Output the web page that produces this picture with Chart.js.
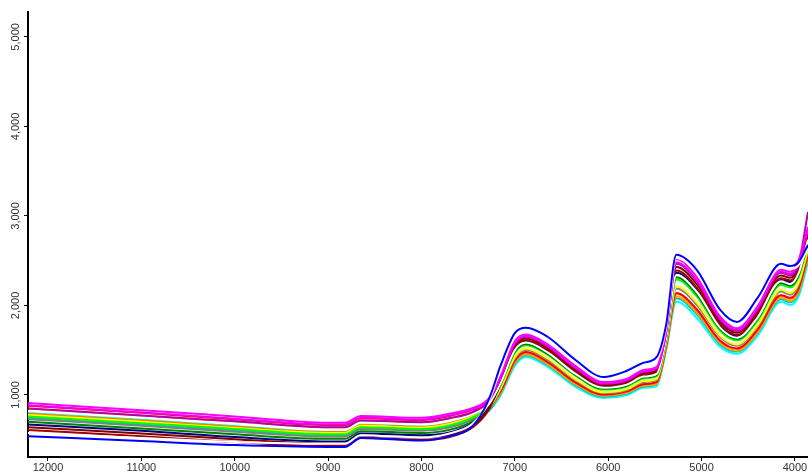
<!DOCTYPE html>
<html>
<head>
<meta charset="utf-8">
<script src="https://cdn.jsdelivr.net/npm/chart.js@4"></script>
<style>
  body { margin: 0; background: #fff; }
  #wrap { width: 808px; height: 472px; }
</style>
</head>
<body>
<div id="wrap"><canvas id="spectra"></canvas></div>
<script>
// wavenumbers (cm-1), left to right
const wavenumbers = [12214, 11000, 10000, 9000, 8820, 8650, 8000, 7700, 7450, 7280, 7150, 7000, 6880, 6650, 6350, 6050, 5800, 5620, 5480, 5380, 5270, 5050, 4800, 4620, 4400, 4150, 4050, 3960, 3860];
const xTicks = [12000, 11000, 10000, 9000, 8000, 7000, 6000, 5000, 4000];
const yTicks = [1000, 2000, 3000, 4000, 5000];

// one array per spectrum
const blue = [540, 485, 440, 420, 420, 520, 490, 540, 655, 945, 1335, 1690, 1750, 1650, 1390, 1200, 1270, 1360, 1425, 1780, 2565, 2395, 1950, 1815, 2085, 2465, 2440, 2485, 2675];
const white2 = [575, 520, 475, 455, 455, 550, 525, 570, 680, 920, 1300, 1655, 1715, 1615, 1355, 1170, 1235, 1325, 1390, 1745, 2530, 2360, 1915, 1780, 2050, 2430, 2405, 2450, 2640];
const magenta = [910, 830, 760, 690, 690, 765, 745, 790, 855, 960, 1215, 1600, 1675, 1565, 1325, 1145, 1180, 1280, 1315, 1715, 2515, 2315, 1875, 1745, 1990, 2400, 2375, 2510, 2880];
const magenta2 = [885, 805, 735, 670, 670, 745, 725, 770, 840, 945, 1200, 1580, 1660, 1550, 1305, 1130, 1165, 1265, 1300, 1700, 2480, 2280, 1850, 1725, 1965, 2375, 2350, 2480, 2850];
const purple = [850, 770, 705, 640, 640, 715, 695, 740, 810, 930, 1190, 1570, 1650, 1540, 1300, 1125, 1160, 1260, 1290, 1690, 2465, 2270, 1840, 1715, 1955, 2365, 2335, 2465, 3045];
const red = [880, 800, 730, 665, 665, 740, 720, 765, 835, 875, 1045, 1385, 1480, 1370, 1140, 1005, 1040, 1120, 1145, 1545, 2140, 1955, 1605, 1520, 1730, 2115, 2085, 2190, 2570];
const orange = [850, 770, 705, 640, 640, 715, 695, 740, 810, 855, 1025, 1360, 1455, 1345, 1120, 990, 1025, 1105, 1125, 1525, 2100, 1920, 1580, 1495, 1700, 2085, 2050, 2155, 2535];
const white1 = [820, 745, 675, 610, 610, 690, 670, 710, 790, 895, 1135, 1500, 1585, 1475, 1235, 1080, 1115, 1205, 1235, 1635, 2340, 2150, 1750, 1640, 1865, 2270, 2240, 2360, 2735];
const cyan = [805, 730, 660, 600, 600, 680, 660, 700, 780, 830, 1000, 1325, 1425, 1315, 1090, 965, 1000, 1080, 1100, 1500, 2040, 1860, 1535, 1460, 1660, 2040, 2005, 2105, 2485];
const yellow = [775, 700, 630, 575, 575, 655, 635, 675, 760, 855, 1080, 1425, 1520, 1410, 1175, 1030, 1065, 1155, 1180, 1580, 2215, 2030, 1660, 1565, 1780, 2175, 2140, 2255, 2630];
const lime = [760, 685, 620, 560, 560, 640, 620, 660, 750, 865, 1110, 1470, 1555, 1450, 1215, 1060, 1095, 1185, 1210, 1610, 2290, 2100, 1715, 1610, 1830, 2230, 2200, 2320, 2690];
const gray = [730, 655, 590, 535, 535, 620, 600, 635, 725, 835, 1070, 1410, 1505, 1395, 1165, 1020, 1055, 1145, 1170, 1570, 2190, 2005, 1645, 1550, 1765, 2155, 2120, 2230, 2610];
const green = [700, 625, 560, 510, 510, 595, 575, 610, 705, 850, 1125, 1485, 1570, 1460, 1225, 1070, 1105, 1195, 1225, 1625, 2315, 2125, 1735, 1625, 1850, 2250, 2220, 2340, 2715];
const navy = [670, 600, 530, 480, 480, 570, 550, 580, 685, 850, 1145, 1515, 1595, 1485, 1250, 1090, 1125, 1215, 1245, 1645, 2365, 2170, 1770, 1655, 1885, 2285, 2260, 2380, 2755];
const maroon = [640, 570, 505, 455, 455, 545, 525, 555, 660, 855, 1175, 1550, 1630, 1520, 1280, 1115, 1150, 1245, 1275, 1675, 2430, 2235, 1815, 1695, 1930, 2335, 2310, 2435, 2810];
const darkRed = [610, 540, 475, 430, 430, 520, 500, 530, 640, 835, 1160, 1530, 1610, 1500, 1260, 1100, 1135, 1225, 1260, 1660, 2390, 2195, 1785, 1670, 1900, 2305, 2280, 2400, 2775];
const teal = [745, 670, 605, 545, 545, 630, 610, 645, 735, 820, 1020, 1350, 1445, 1335, 1110, 980, 1015, 1095, 1120, 1520, 2080, 1900, 1565, 1485, 1690, 2070, 2035, 2140, 2520];
const darkOrange = [790, 715, 645, 585, 585, 665, 645, 685, 770, 845, 1040, 1375, 1475, 1365, 1135, 1000, 1035, 1120, 1140, 1540, 2130, 1945, 1600, 1515, 1720, 2110, 2075, 2180, 2560];

const spectra = [
  [blue, "#0000FF"],
  [white2, "#FFFFFF"],
  [magenta, "#FF00FF"],
  [magenta2, "#EE00EE"],
  [purple, "#B000B0"],
  [white1, "#FFFFFF"],
  [maroon, "#800000"],
  [darkRed, "#A00000"],
  [navy, "#000080"],
  [green, "#008000"],
  [lime, "#00FF00"],
  [yellow, "#FFFF00"],
  [gray, "#808080"],
  [red, "#FF0000"],
  [darkOrange, "#FF7F00"],
  [orange, "#FFA500"],
  [teal, "#00C0C0"],
  [cyan, "#00FFFF"],
];

// y labels are drawn rotated, reading bottom to top
const rotatedYLabels = {
  id: "rotatedYLabels",
  afterDraw(chart) {
    const ctx = chart.ctx;
    const yScale = chart.scales.y;
    ctx.save();
    ctx.fillStyle = "#333";
    ctx.font = "11px 'Liberation Sans', Arial, sans-serif";
    ctx.textAlign = "center";
    ctx.textBaseline = "middle";
    yTicks.forEach((v) => {
      const y = yScale.getPixelForValue(v);
      ctx.save();
      ctx.translate(16, y);
      ctx.rotate(-Math.PI / 2);
      ctx.fillText(v.toLocaleString("en-US"), 0, 0);
      ctx.restore();
    });
    ctx.restore();
  },
};

new Chart(document.getElementById("spectra").getContext("2d"), {
  type: "line",
  data: {
    labels: wavenumbers,
    datasets: spectra.map(([values, color]) => ({
      data: values,
      borderColor: color,
      borderWidth: 2,
      pointRadius: 0,
      fill: false,
      cubicInterpolationMode: "monotone",
    })),
  },
  options: {
    responsive: true,
    maintainAspectRatio: false,
    animation: false,
    layout: { padding: { top: 12, right: 0, left: 0, bottom: 0 } },
    plugins: {
      legend: { display: false },
      tooltip: { enabled: false },
    },
    scales: {
      x: {
        type: "linear",
        reverse: true,
        min: 3860,
        max: 12214,
        afterBuildTicks: (scale) => {
          scale.ticks = xTicks.map((v) => ({ value: v }));
        },
        afterFit: (scale) => {
          scale.height = 15;
        },
        grid: { drawOnChartArea: false, drawTicks: true, tickLength: 4, color: "#000" },
        border: { display: true, color: "#000", width: 2 },
        ticks: {
          padding: 0,
          maxRotation: 0,
          color: "#333",
          font: { family: "'Liberation Sans', Arial, sans-serif", size: 11 },
          callback: (v) => String(v),
        },
      },
      y: {
        min: 307,
        max: 5278,
        afterBuildTicks: (scale) => {
          scale.ticks = yTicks.map((v) => ({ value: v }));
        },
        afterFit: (scale) => {
          scale.width = 28;
        },
        grid: { drawOnChartArea: false, drawTicks: true, tickLength: 4, color: "#000" },
        border: { display: true, color: "#000", width: 2 },
        ticks: { display: false },
      },
    },
  },
  plugins: [rotatedYLabels],
});
</script>
</body>
</html>
